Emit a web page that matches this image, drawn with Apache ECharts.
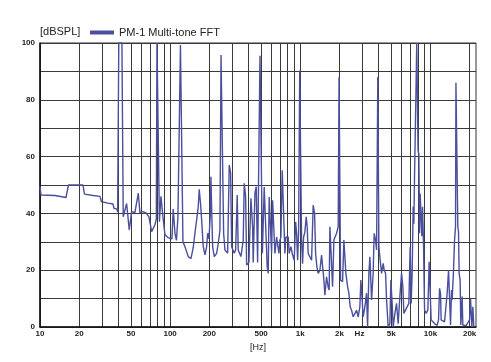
<!DOCTYPE html>
<html>
<head>
<meta charset="utf-8">
<script src="https://cdn.jsdelivr.net/npm/echarts@6/dist/echarts.min.js"></script>
<style>
html,body{margin:0;padding:0;background:#fff;}
#chart{width:491px;height:362px;}
</style>
</head>
<body>
<div id="chart"></div>
<script>
// Frequency (Hz) of each trace point
var freqHz = [
  10,10.18,13.04,13.27,15.84,16.26,16.55,21.39,21.96,25.54,28.89,29.67,33.3,36.37,37.02,39.03,39.5,
  40.3,42.6,43.6,46.3,48.5,50.6,53.6,56.9,58.6,61.8,65.2,68.7,72.1,74.4,76.4,78.3,
  79.2,81.3,82.7,85,88,91.2,96.2,99.6,103.2,105.6,108.9,111.8,114.8,117.9,
  120,123.2,125.4,129.9,137.7,144.5,150.5,155,159.8,164.4,167.3,171.5,174.6,179.6,185.1,190.7,194.1,198.6,
  203.2,205.8,208.3,212.1,218.2,227.6,234.1,241.3,246,252,257.6,263.6,276.5,284.4,291.6,296.8,310.7,318.5,
  327.6,333.4,349.8,364.3,370.8,380.1,386.9,402.9,417.5,430.2,434.7,448,458.4,469.9,480.8,490,503,
  511.5,528.1,544.3,556.9,566.9,576.9,591.4,602,612.8,627,638.2,657.7,669.5,685,697.3,709.8,726.3,744.5,
  761.8,775.4,793.5,807.6,822,847.2,866.9,898,920.6,937,953.8,970.6,990,1005,1023,1041,1060,1085,1110,1130,
  1150,1185,1221,1256,1288,1311,1341,1372,1414,1457,1484,1518,1545,1592,1638,1667,1688,1739,1770,1812,1867,
  1900,1955,1985,2005,2039,2076,2113,2162,2200,2240,2308,2362,2417,2477,2548,2626,2706,2784,2869,2920,2988,
  3041,3134,3230,3288,3365,3425,3529,3630,3695,3788,3855,3940,3985,4016,4109,4212,4333,4410,4520,4601,4733,
  4878,4965,5080,5171,5329,5491,5649,5821,5998,6138,6248,6393,6622,6825,6984,7109,7235,7365,7457,7550,7631,
  7767,7850,7961,8030,8146,8248,8336,8485,8590,8697,8853,9011,9268,9550,9772,9947,10125,10752,11259,11539,
  11746,11956,12084,12834,13438,13772,14019,14269,14525,14679,15045,15314,15583,15700,15950,16230,16432,
  16608,16905,17116,17515,17730,18800,19375,19965,20323,20797,21168,21544
];
// Level (dBSPL) at each point
var levelDb = [
  49.5,46.5,46.3,45.7,45.6,46,50,50,46.8,46.3,46,44.1,43.6,43.3,41.8,41.5,40.5,
  100,100,38.8,43.5,34.2,40.6,40.3,47.1,40.2,40.6,40.2,38.8,33.6,33.2,36,38,
  100,100,37.1,46,38.8,32.5,31.5,30.9,31,41.5,33,30.5,38.8,39,
  99.3,99.3,30,28.3,24.8,24.1,28,33,37.7,42.4,48.5,43,37.7,28.3,25.4,28.3,33,31,
  38.8,52.9,42.3,28.3,24.8,25.9,29.4,34,95.8,95.8,33,27.1,26,57,54.2,28.3,26,27.1,
  46.5,27.1,24.8,30.6,50.6,45.9,21.8,22.7,45.3,35.3,22.7,47.1,49.4,22.7,22.3,95.5,95.5,
  26,49.3,48.8,21.2,18.9,45.8,45.4,26,44.6,44.2,25.9,31.7,31.3,25.9,30.5,31.7,55.2,54.7,
  25.9,31.7,31.3,31.7,25.9,28.3,25.9,23.5,37,32.9,23.5,33.6,90.3,90.3,30.5,22.3,31.7,33.5,38.8,35.3,
  25.9,24.7,23.5,42.9,40,25.9,21.2,18.9,19.9,25.3,24.7,16.5,11.2,17.7,14,13,35.3,35.9,14.2,30.6,30.2,
  33,35.3,88,88,16.5,16.5,16,30.6,30.4,18.9,14.2,11.9,7.1,5.9,3.6,4.7,5.9,3.6,7.1,16.5,9.5,
  3.6,7.1,11.9,0,18.9,24.7,9.5,18.9,33,30.6,27.1,88,88,28.2,23.6,18.9,22.4,20,18.9,9.5,0,
  1.2,16.5,8.3,0,4.7,8.3,1.2,10.6,19,14.2,4.8,5.3,7.1,8.3,28.2,8.3,18.9,42.3,36.4,54,65.7,
  65.7,100,100,62.2,61,33,47,46.5,32,42.3,28.2,6,4.8,6,23,22.3,2.5,1.2,0.6,2.5,
  13.6,11.8,2.5,1.8,11.8,20,20,0.7,13,9.5,20,30.6,35.3,86,86,35.3,33.5,
  18.9,16.5,0.7,10.7,0.7,0.5,0.7,2.5,10,0,7.1,0
];
// Vertical grid lines (Hz)
var gridFreqs = [10,20,30,40,50,60,70,80,90,100,200,300,400,500,600,700,800,900,
  1000,2000,3000,4000,5000,6000,7000,8000,9000,10000,20000];
// X tick labels
var labelFreqs = [10,20,50,100,200,500,1000,2000,2850,5000,10000,20000];
var labelTexts = ['10','20','50','100','200','500','1k','2k','Hz','5k','10k','20k'];
// Y tick labels
var yLabels = [0,20,40,60,80,100];

var seriesName = 'PM-1 Multi-tone FFT';
var lineColor = '#4a4f9e';

var data = freqHz.map(function (f, i) { return [Math.log10(f), levelDb[i]]; });

var chart = echarts.init(document.getElementById('chart'), null, {renderer: 'canvas'});
chart.setOption({
  animation: false,
  backgroundColor: '#ffffff',
  textStyle: {fontFamily: 'Liberation Sans, Arial, sans-serif'},
  legend: {
    left: 85, top: 22,
    icon: 'rect', itemWidth: 24, itemHeight: 4, itemGap: 10,
    textStyle: {fontSize: 11, color: '#222', fontFamily: 'Liberation Sans'},
    data: [seriesName]
  },
  grid: {
    left: 40, right: 15, top: 43, bottom: 35,
    show: true, borderColor: '#333', borderWidth: 1
  },
  xAxis: {
    type: 'value', min: 1, max: 4.35,
    name: '[Hz]', nameLocation: 'middle', nameGap: 14,
    nameTextStyle: {fontSize: 9, color: '#222', fontFamily: 'Liberation Sans'},
    axisLine: {show: true, onZero: false, lineStyle: {color: '#111', width: 1.5}},
    axisTick: {show: false, customValues: gridFreqs.map(function (f) { return Math.log10(f); })},
    splitLine: {show: true, lineStyle: {color: '#3a3a3a', width: 1}},
    axisLabel: {
      customValues: labelFreqs.map(function (f) { return Math.log10(f); }),
      margin: 3, fontSize: 8, fontWeight: 'bold', color: '#222',
      fontFamily: 'Liberation Sans',
      formatter: function (v) {
        var f = Math.pow(10, v), best = 0, d = Infinity;
        for (var i = 0; i < labelFreqs.length; i++) {
          var dd = Math.abs(Math.log(labelFreqs[i] / f));
          if (dd < d) { d = dd; best = i; }
        }
        return labelTexts[best];
      }
    }
  },
  yAxis: {
    type: 'value', min: 0, max: 100, interval: 10,
    name: '[dBSPL]', nameLocation: 'end', nameGap: 11,
    nameTextStyle: {fontSize: 11, color: '#222', align: 'left', verticalAlign: 'middle', fontFamily: 'Liberation Sans'},
    axisLine: {show: true, lineStyle: {color: '#111', width: 1.5}},
    axisTick: {show: false},
    splitLine: {show: true, lineStyle: {color: '#3a3a3a', width: 1}},
    axisLabel: {
      margin: 5, fontSize: 8, fontWeight: 'bold', color: '#222',
      fontFamily: 'Liberation Sans',
      formatter: function (v) { return yLabels.indexOf(v) >= 0 ? String(v) : ''; }
    }
  },
  series: [{
    name: seriesName,
    type: 'line',
    data: data,
    showSymbol: false,
    symbol: 'none',
    color: lineColor,
    lineStyle: {color: lineColor, width: 1.4},
    clip: true
  }]
});
</script>
</body>
</html>
